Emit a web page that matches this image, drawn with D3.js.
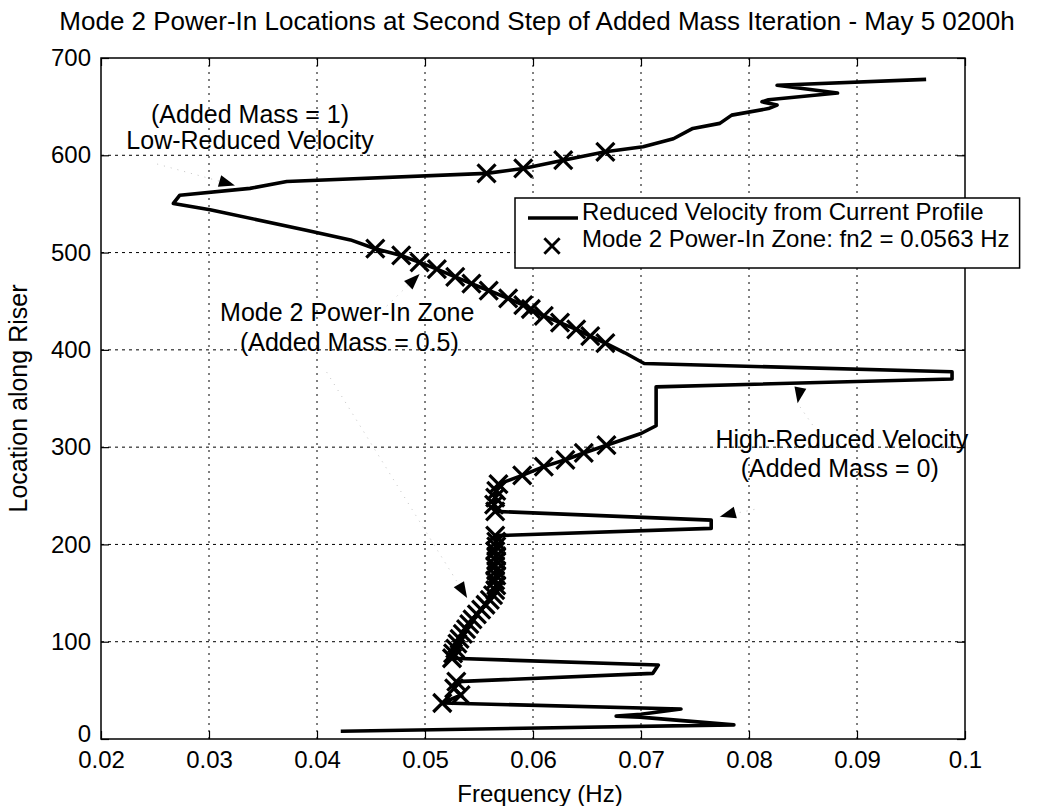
<!DOCTYPE html>
<html>
<head>
<meta charset="utf-8">
<script src="https://cdn.jsdelivr.net/npm/d3@7"></script>
<style>
  body { margin: 0; background: #fff; }
  text { font-family: "Liberation Sans", Arial, Helvetica, sans-serif; fill: #000; }
</style>
</head>
<body>
<svg id="chart" width="1061" height="806"></svg>
<script>
// ---- labels ----
const titleText = "Mode 2 Power-In Locations at Second Step of Added Mass Iteration - May 5 0200h";
const xLabel = "Frequency (Hz)";
const yLabel = "Location along Riser";

// ---- axes ----
const xDomain = [0.02, 0.1];
const yDomain = [0, 700];
const xTicks = [0.02, 0.03, 0.04, 0.05, 0.06, 0.07, 0.08, 0.09, 0.1];
const xTickLabels = ["0.02", "0.03", "0.04", "0.05", "0.06", "0.07", "0.08", "0.09", "0.1"];
const yTicks = [0, 100, 200, 300, 400, 500, 600, 700];
const yTickLabels = ["0", "100", "200", "300", "400", "500", "600", "700"];

// ---- reduced-velocity frequency profile along the riser ----
const freq = [
  0.0422, 0.0786, 0.0699, 0.0677, 0.0700, 0.0737,
  0.0516, 0.0533, 0.0527, 0.0529, 0.0711, 0.0716,
  0.0525, 0.0526, 0.0528, 0.0530, 0.0532, 0.0535, 0.0538, 0.0541, 0.0544, 0.0548,
  0.0552, 0.0556, 0.0560, 0.0563, 0.0565, 0.0566, 0.0565, 0.0566, 0.0566, 0.0565,
  0.0566, 0.0566, 0.0565, 0.0566, 0.0566, 0.0565, 0.0765, 0.0765, 0.0565,
  0.0564, 0.0565, 0.0566, 0.0568, 0.0590, 0.0610, 0.0630, 0.0647, 0.0668,
  0.0700, 0.0714, 0.0714, 0.0988, 0.0988, 0.0703, 0.0685,
  0.0667, 0.0653, 0.0640, 0.0625, 0.0610, 0.0598, 0.0591, 0.0577, 0.0559, 0.0543,
  0.0528, 0.0511, 0.0495, 0.0478, 0.0454,
  0.0431, 0.0390, 0.0301, 0.0267, 0.0273, 0.0338, 0.0372,
  0.0557, 0.0591, 0.0628, 0.0667,
  0.0702, 0.0730, 0.0748, 0.0773, 0.0784, 0.0818, 0.0826, 0.0812, 0.0818,
  0.0882, 0.0826, 0.0964
];
const loc = [
  8, 14.5, 22.5, 23.5, 25.5, 30.8,
  37, 45, 52, 59, 67.5, 76,
  83, 88, 93, 98, 103, 108, 113, 118, 123, 128,
  133, 138, 143, 148, 153, 158, 163, 168, 173, 178,
  183, 188, 193, 198, 203, 209, 216.5, 225, 234,
  241, 248, 255, 262, 271, 280, 287, 294, 302,
  314, 322, 362, 370, 377.5, 386, 397,
  407, 414, 421, 428, 435, 442, 446, 453, 461, 468,
  475, 483, 490, 497, 504,
  513, 523, 544, 550.5, 559, 566, 573,
  581.4, 586.5, 595, 603.6,
  608.7, 617, 627.6, 632.8, 641.3, 648, 651.6, 655, 657,
  664, 672, 678
];

// Mode 2 natural frequency and the +/- band that defines the power-in zone
const fn2 = 0.0563;
const zoneBand = 0.2;

const legendLabels = ["Reduced Velocity from Current Profile", "Mode 2 Power-In Zone: fn2 = 0.0563 Hz"];

// ---- annotations (positions in data units) ----
const noteText = ["(Added Mass = 1)", "Low-Reduced Velocity", "Mode 2 Power-In Zone", "(Added Mass = 0.5)",
                  "High-Reduced Velocity", "(Added Mass = 0)"];
const noteF = [0.0338, 0.0338, 0.0428, 0.0430, 0.0886, 0.0884];
const noteL = [633, 606, 430, 399, 299, 269];

// arrow heads: tip position and pointing angle (degrees, screen space)
const arrowF = [0.0324, 0.0495, 0.0845, 0.0773, 0.0539];
const arrowL = [569, 478, 345, 228.5, 145];
const arrowAng = [16, -45, 100, 165, 59];
// faint leader starts
const leadF = [0.0252, 0.0460, 0.0870, 0.0805, 0.0409];
const leadL = [591, 440, 305, 236, 377];

// ---- layout ----
const W = 1061, H = 806;
const margin = { top: 58, right: 96, bottom: 67, left: 101 };
const iw = W - margin.left - margin.right;
const ih = H - margin.top - margin.bottom;

const svg = d3.select("#chart");
const g = svg.append("g").attr("transform", `translate(${margin.left},${margin.top})`);

const x = d3.scaleLinear().domain(xDomain).range([0, iw]);
const y = d3.scaleLinear().domain(yDomain).range([ih, 0]);

// dotted grid
g.append("g").selectAll("line").data(xTicks.slice(1, -1)).join("line")
  .attr("x1", d => x(d)).attr("x2", d => x(d)).attr("y1", 0).attr("y2", ih)
  .attr("stroke", "#000").attr("stroke-width", 1).attr("stroke-dasharray", "2,5");
g.append("g").selectAll("line").data(yTicks.slice(1, -1)).join("line")
  .attr("x1", 0).attr("x2", iw).attr("y1", d => y(d)).attr("y2", d => y(d))
  .attr("stroke", "#000").attr("stroke-width", 1).attr("stroke-dasharray", "3,4");

// axes with inward ticks
const fontTick = 24;
const xAxis = g.append("g").attr("transform", `translate(0,${ih})`)
  .call(d3.axisBottom(x).tickValues(xTicks).tickFormat((d, i) => xTickLabels[i]).tickSizeInner(-8).tickSizeOuter(0).tickPadding(12));
xAxis.selectAll("text").attr("font-size", fontTick).attr("dy", "0.71em");
const yAxis = g.append("g")
  .call(d3.axisLeft(y).tickValues(yTicks).tickFormat((d, i) => yTickLabels[i]).tickSizeInner(-8).tickSizeOuter(0).tickPadding(10));
yAxis.selectAll("text").attr("font-size", fontTick);
// the bottom label sits a little high so it clears the x tick labels
yAxis.selectAll(".tick").filter(d => d === yDomain[0]).select("text").attr("dy", "0.1em");
g.append("g").call(d3.axisTop(x).tickValues(xTicks).tickFormat("").tickSizeInner(-8).tickSizeOuter(0));
g.append("g").attr("transform", `translate(${iw},0)`)
  .call(d3.axisRight(y).tickValues(yTicks).tickFormat("").tickSizeInner(-8).tickSizeOuter(0));
g.selectAll(".domain").remove();
g.selectAll(".tick line").attr("stroke", "#000").attr("stroke-width", 1.2);
g.selectAll(".tick text").attr("font-family", "Liberation Sans, Arial, sans-serif");

// frame
g.append("rect").attr("x", 0).attr("y", 0).attr("width", iw).attr("height", ih)
  .attr("fill", "none").attr("stroke", "#000").attr("stroke-width", 1.5);

// faint leader lines for annotations
g.append("g").selectAll("line").data(arrowF).join("line")
  .attr("x1", (d, i) => x(leadF[i])).attr("y1", (d, i) => y(leadL[i]))
  .attr("x2", (d, i) => x(arrowF[i])).attr("y2", (d, i) => y(arrowL[i]))
  .attr("stroke", "#c4c4c4").attr("stroke-width", 1).attr("stroke-dasharray", "1,6");

// profile line
const pts = freq.map((f, i) => [f, loc[i]]);
const line = d3.line().x(d => x(d[0])).y(d => y(d[1]));
g.append("path").datum(pts).attr("d", line)
  .attr("fill", "none").attr("stroke", "#000").attr("stroke-width", 3.6).attr("stroke-linejoin", "round");

// power-in zone markers
const zone = pts.filter(d => d[0] >= fn2 * (1 - zoneBand) && d[0] <= fn2 * (1 + zoneBand));
const xm = 9;
const xPath = `M${-xm},${-xm}L${xm},${xm}M${-xm},${xm}L${xm},${-xm}`;
g.append("g").selectAll("path").data(zone).join("path")
  .attr("transform", d => `translate(${x(d[0])},${y(d[1])})`)
  .attr("d", xPath).attr("stroke", "#000").attr("stroke-width", 3.2).attr("fill", "none");

// arrow heads
g.append("g").selectAll("path").data(arrowF).join("path")
  .attr("transform", (d, i) => `translate(${x(d)},${y(arrowL[i])}) rotate(${arrowAng[i]})`)
  .attr("d", "M0,0L-16,-6L-16,6Z").attr("fill", "#000");

// annotation text
g.append("g").selectAll("text").data(noteText).join("text")
  .attr("x", (d, i) => x(noteF[i])).attr("y", (d, i) => y(noteL[i]))
  .attr("text-anchor", "middle").attr("font-size", 25).text(d => d);

// legend
const lg = g.append("g").attr("transform", `translate(${515 - margin.left},${198 - margin.top})`);
const lgBox = lg.append("rect").attr("fill", "#fff").attr("stroke", "#000").attr("stroke-width", 1.5);
const lgText = lg.selectAll("text").data(legendLabels).join("text")
  .attr("x", 67).attr("y", (d, i) => 22 + i * 27).attr("font-size", 24).text(d => d);
lg.append("line").attr("x1", 13).attr("x2", 63).attr("y1", 20).attr("y2", 20)
  .attr("stroke", "#000").attr("stroke-width", 3.6);
lg.append("path").attr("transform", "translate(37,48) scale(0.85)").attr("d", xPath)
  .attr("stroke", "#000").attr("stroke-width", 3.4).attr("fill", "none");
let lgW = 0;
lgText.each(function () { lgW = Math.max(lgW, this.getComputedTextLength()); });
lgBox.attr("x", 0).attr("y", 0).attr("width", 67 + lgW + 10).attr("height", 70);

// titles
svg.append("text").attr("x", 537).attr("y", 30).attr("text-anchor", "middle")
  .attr("font-size", 26).text(titleText);
svg.append("text").attr("x", 540).attr("y", 802).attr("text-anchor", "middle")
  .attr("font-size", 24).text(xLabel);
svg.append("text").attr("transform", `translate(27,${margin.top + ih / 2}) rotate(-90)`)
  .attr("text-anchor", "middle").attr("font-size", 25).text(yLabel);
</script>
</body>
</html>
